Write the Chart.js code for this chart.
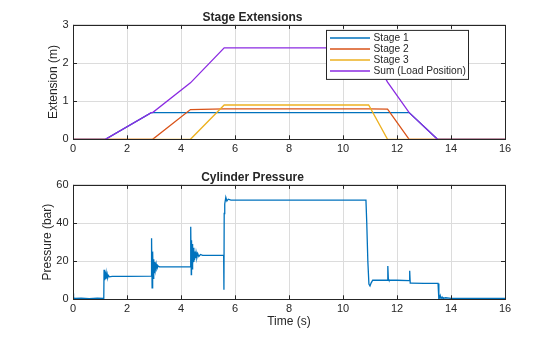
<!DOCTYPE html>
<html><head><meta charset="utf-8">
<script src="https://cdn.jsdelivr.net/npm/chart.js@4"></script>
<style>
html,body{margin:0;padding:0;background:#fff;}
#wrap{position:relative;width:560px;height:337px;}
.c{position:absolute;left:0;width:560px;}
</style></head><body>
<div id="wrap">
<div class="c" style="top:0;height:160px"><canvas id="c1"></canvas></div>
<div class="c" style="top:160px;height:177px"><canvas id="c2"></canvas></div>
</div>
<script>
// ---- Data ----
const extTime = [0, 1.2, 2.9, 2.95, 4.35, 5.6, 10.95, 11.65, 12.45, 13.5, 16];
const stage1  = [0, 0, 0.7, 0.7, 0.7, 0.7, 0.7, 0.7, 0.7, 0, 0];
const stage2  = [0, 0, 0, 0, 0.78, 0.8, 0.8, 0.79, 0, 0, 0];
const stage3  = [0, 0, 0, 0, 0, 0.9, 0.9, 0, 0, 0, 0];
const sumPos  = [0, 0, 0.7, 0.7, 1.48, 2.4, 2.4, 1.5, 0.7, 0, 0];

const pTime = [0, 0.02, 0.05, 0.3, 0.6, 0.9, 1.14,
  1.15, 1.17, 1.19, 1.21, 1.23, 1.25, 1.27, 1.29, 1.31, 1.35, 1.45, 2.0, 2.9,
  2.91, 2.93, 2.95, 2.97, 2.99, 3.01, 3.03, 3.05, 3.08, 3.11, 3.15, 3.2, 3.5, 4.0, 4.35,
  4.36, 4.38, 4.39, 4.41, 4.42, 4.44, 4.45, 4.47, 4.48, 4.50, 4.52, 4.54, 4.56, 4.59, 4.62, 4.66, 4.72, 4.8, 5.2, 5.58,
  5.59, 5.6, 5.62, 5.66, 5.7, 5.75, 5.85, 6.0, 8.0,
  10.85, 10.88, 10.92, 10.96, 11.0, 11.04, 11.1, 11.3, 11.64, 11.66, 11.68, 11.7, 12.0,
  12.46, 12.47, 12.49, 12.52, 13.0, 13.52, 13.55, 13.6, 13.63, 13.67, 13.7, 13.8, 14, 16];
const pressure = [3, 1, 0.5, 0.6, 0.4, 0.6, 0.5,
  15.5, 10, 14.5, 10.5, 13.5, 11, 13, 11.5, 12.5, 11.8, 12, 12, 12.2,
  32, 6, 25, 11, 21, 14, 19.5, 15.5, 18.5, 16, 17.5, 17, 17, 17, 17,
  38, 13, 31, 16, 29, 18, 27, 19.5, 26, 20.5, 25, 21.5, 24.5, 22, 24, 22.5, 23.5, 23, 23, 23,
  5, 45, 50, 53.5, 51.5, 52.5, 52, 52, 52,
  52, 40, 20, 8, 7, 8.5, 10, 10, 10, 17.5, 10.5, 10, 10,
  9.8, 15, 8.5, 8.5, 8.3, 8.3, 0, 2, 0.3, 1.2, 0.5, 0.8, 0.5, 0.5];

const xTicks = [0, 2, 4, 6, 8, 10, 12, 14, 16];
const extTicks = [0, 1, 2, 3];
const pTicks = [0, 20, 40, 60];

const seriesNames = ['Stage 1', 'Stage 2', 'Stage 3', 'Sum (Load Position)'];
const seriesColors = ['#0072BD', '#D95319', '#EDB120', '#8B2BE2'];

const pts = (xs, ys) => xs.map((x, i) => ({x, y: ys[i]}));

// ---- Plugins ----
const boxPlugin = {
  id: 'boxPlugin',
  afterDatasetsDraw(chart) {
    const {ctx, chartArea: a, scales} = chart;
    ctx.save();
    ctx.strokeStyle = '#262626';
    ctx.lineWidth = 1;
    ctx.strokeRect(Math.round(a.left) + 0.5, Math.round(a.top) + 0.5, Math.round(a.right - a.left), Math.round(a.bottom - a.top));
    ctx.beginPath();
    scales.x.ticks.forEach(t => {
      const px = Math.round(scales.x.getPixelForValue(t.value)) + 0.5;
      ctx.moveTo(px, a.bottom); ctx.lineTo(px, a.bottom - 4);
      ctx.moveTo(px, a.top); ctx.lineTo(px, a.top + 4);
    });
    scales.y.ticks.forEach(t => {
      const py = Math.round(scales.y.getPixelForValue(t.value)) + 0.5;
      ctx.moveTo(a.left, py); ctx.lineTo(a.left + 4, py);
      ctx.moveTo(a.right, py); ctx.lineTo(a.right - 4, py);
    });
    ctx.stroke();
    ctx.restore();
  }
};

const legendBox = {
  id: 'legendBox',
  afterDraw(chart, args, opts) {
    if (!opts.show) return;
    const {ctx, chartArea: a} = chart;
    const x0 = a.right - 178.5, y0 = a.top + 5.5, w = 142, h = 49;
    ctx.save();
    ctx.fillStyle = '#fff';
    ctx.fillRect(x0, y0, w, h);
    ctx.strokeStyle = '#262626';
    ctx.lineWidth = 1;
    ctx.strokeRect(x0, y0, w, h);
    ctx.font = '10.2px "Liberation Sans", Arial, sans-serif';
    ctx.textBaseline = 'middle';
    ctx.fillStyle = '#262626';
    const sets = chart.data.datasets.slice().sort((p, q) => p.legendIndex - q.legendIndex);
    sets.forEach((ds, i) => {
      const cy = y0 + 7.5 + i * 11;
      ctx.strokeStyle = ds.borderColor;
      ctx.lineWidth = 1.5;
      ctx.beginPath(); ctx.moveTo(x0 + 3.5, cy); ctx.lineTo(x0 + 43.5, cy); ctx.stroke();
      ctx.fillText(ds.label, x0 + 47, cy + 0.5);
    });
    ctx.restore();
  }
};

const FONT = '"Liberation Sans", Arial, Helvetica, sans-serif';
const TXT = '#262626';
const GRID = '#dcdcdc';

function makeOptions(title, yTitle, yMax, yTicks, yTitlePad, xTitle, xAxisH, showLegend) {
  return {
    responsive: true,
    maintainAspectRatio: false,
    animation: false,
    layout: {padding: {left: 0, right: 55, top: 0, bottom: 0}},
    plugins: {
      legend: {display: false},
      tooltip: {enabled: false},
      title: {display: true, text: title, color: TXT,
        font: {family: FONT, size: 12, weight: 'bold'}, padding: {top: 10.5, bottom: 0}},
      legendBox: {show: showLegend}
    },
    scales: {
      x: {
        type: 'linear', min: 0, max: 16,
        afterBuildTicks: s => { s.ticks = xTicks.map(v => ({value: v})); },
        afterFit: s => { s.height = xAxisH; },
        grid: {color: GRID, drawTicks: false},
        border: {display: false},
        ticks: {color: TXT, font: {family: FONT, size: 11}, padding: 3.5, maxRotation: 0},
        title: {display: !!xTitle, text: xTitle || '', color: TXT,
          font: {family: FONT, size: 12}, padding: {top: 0, bottom: 8}}
      },
      y: {
        min: 0, max: yMax,
        afterBuildTicks: s => { s.ticks = yTicks.map(v => ({value: v})); },
        afterFit: s => { s.width = 73; },
        grid: {color: GRID, drawTicks: false},
        border: {display: false},
        ticks: {color: TXT, font: {family: FONT, size: 11}, padding: 4.5},
        title: {display: true, text: yTitle, color: TXT,
          font: {family: FONT, size: 12}, padding: {top: yTitlePad, bottom: 0}}
      }
    }
  };
}

const lineDs = (label, data, color, order, legendIndex) => ({
  label, data, borderColor: color, backgroundColor: color, borderWidth: 1.3,
  pointRadius: 0, tension: 0, fill: false, order, legendIndex
});

new Chart(document.getElementById('c1'), {
  type: 'line',
  data: {datasets: [
    lineDs(seriesNames[0], pts(extTime, stage1), seriesColors[0], 3, 0),
    lineDs(seriesNames[1], pts(extTime, stage2), seriesColors[1], 2, 1),
    lineDs(seriesNames[2], pts(extTime, stage3), seriesColors[2], 1, 2),
    lineDs(seriesNames[3], pts(extTime, sumPos), seriesColors[3], 0, 3)
  ]},
  options: makeOptions('Stage Extensions', 'Extension (m)', 3, extTicks, 46.8, null, 20.7, true),
  plugins: [boxPlugin, legendBox]
});

new Chart(document.getElementById('c2'), {
  type: 'line',
  data: {datasets: [
    lineDs('Pressure', pts(pTime, pressure), '#0072BD', 0, 0)
  ]},
  options: makeOptions('Cylinder Pressure', 'Pressure (bar)', 60, pTicks, 40.8, 'Time (s)', 37.7, false),
  plugins: [boxPlugin]
});
</script>
</body></html>
